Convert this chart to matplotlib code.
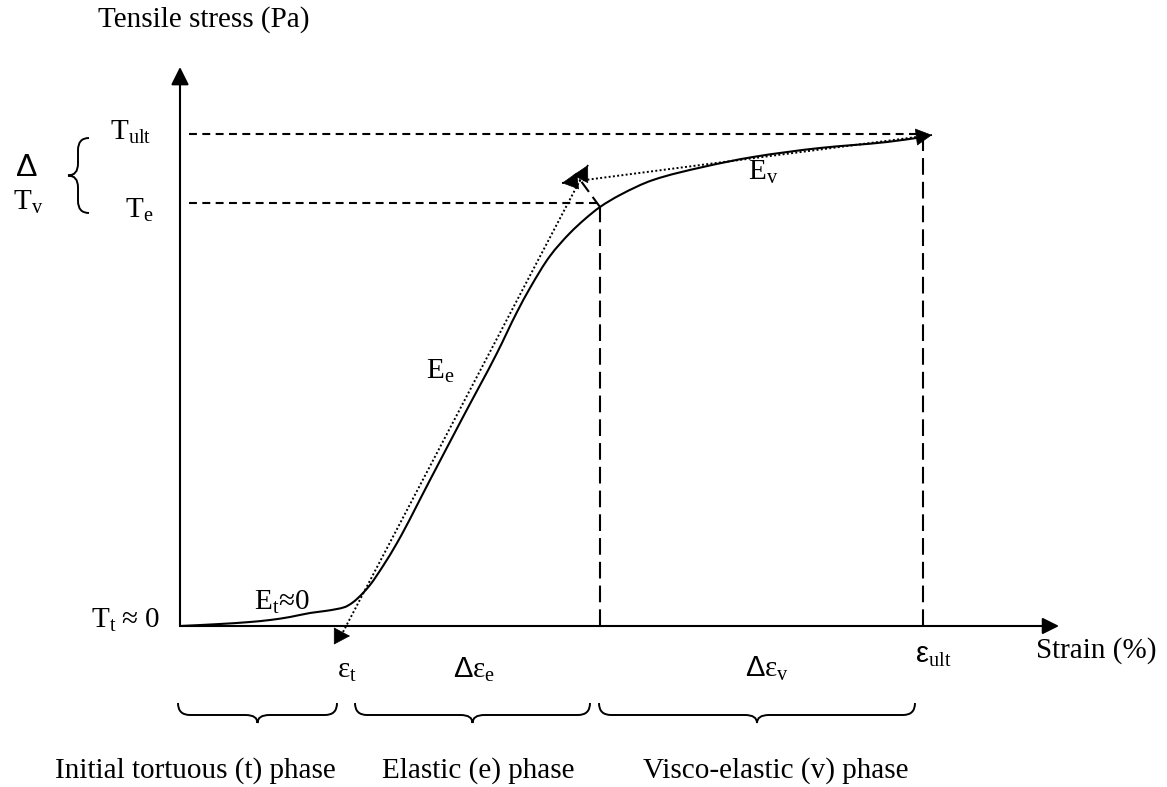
import matplotlib
matplotlib.use("Agg")
import matplotlib.pyplot as plt
from matplotlib.path import Path
from matplotlib.patches import PathPatch
import numpy as np

plt.rcParams['font.family'] = ['Liberation Serif', 'DejaVu Serif']
plt.rcParams['mathtext.fontset'] = 'custom'
plt.rcParams['mathtext.rm'] = 'Liberation Serif'
plt.rcParams['mathtext.it'] = 'Liberation Serif:italic'
plt.rcParams['mathtext.bf'] = 'Liberation Serif:bold'
plt.rcParams['mathtext.sf'] = 'Liberation Sans'

# ---------------- data (schematic units) ----------------
strain = [0, 40, 70, 90, 110, 130, 145, 157, 165, 172, 178, 183, 190, 203, 217,
          250, 283, 317, 337, 350, 370, 390, 405, 420, 440, 473, 523, 573, 640, 707, 743]
stress = [0, 2, 4, 6, 9, 13, 15, 17, 19, 23, 28, 33, 41, 60, 83,
          146, 209, 273, 314, 338, 370, 393, 407, 419, 431, 446, 459, 469, 478, 484, 489]

eps_t = 160       # end of tortuous phase
eps_e = 420       # end of elastic phase
eps_ult = 743     # ultimate strain
T_e = 423         # elastic limit stress
T_ult = 492       # ultimate stress

Ee_line = ([163, 408], [-6, 461])     # elastic modulus tangent (dotted)
Ev_line = ([382, 752], [443, 491])    # visco-elastic modulus secant (dotted)

phase_labels = ["Initial tortuous (t) phase", "Elastic (e) phase", "Visco-elastic (v) phase"]
phase_spans = [(-2, 157), (175, 410), (419, 735)]
phase_label_x = [-125, 202, 463]

x_axis_end = 879
y_axis_end = 559

# ---------------- figure ----------------
fig = plt.figure(figsize=(11.67, 7.87), dpi=100)
ax = fig.add_axes([0, 0, 1, 1])
ax.set_xlim(-180, 987)
ax.set_ylim(-161, 626)
ax.axis('off')

FS = 21
LW = 1.5

# axes with arrows
ax.annotate('', xy=(0, y_axis_end), xytext=(0, 0),
            arrowprops=dict(arrowstyle='-|>,head_length=0.4,head_width=0.2',
                            mutation_scale=27, lw=LW, color='k', shrinkA=0, shrinkB=0))
ax.annotate('', xy=(x_axis_end, 0), xytext=(0, 0),
            arrowprops=dict(arrowstyle='-|>,head_length=0.4,head_width=0.2',
                            mutation_scale=25, lw=LW, color='k', shrinkA=0, shrinkB=0))

# smooth monotone (Fritsch-Carlson) cubic Bezier through the read points
x = np.asarray(strain, float)
y = np.asarray(stress, float)
h = np.diff(x)
s = np.diff(y) / h
m = np.zeros_like(x)
m[0] = s[0]
m[-1] = s[-1]
for i in range(1, len(x) - 1):
    if s[i - 1] * s[i] <= 0:
        m[i] = 0
    else:
        w1 = 2 * h[i] + h[i - 1]
        w2 = h[i] + 2 * h[i - 1]
        m[i] = (w1 + w2) / (w1 / s[i - 1] + w2 / s[i])
verts = [(x[0], y[0])]
codes = [Path.MOVETO]
for i in range(len(x) - 1):
    verts += [(x[i] + h[i] / 3, y[i] + m[i] * h[i] / 3),
              (x[i + 1] - h[i] / 3, y[i + 1] - m[i + 1] * h[i] / 3),
              (x[i + 1], y[i + 1])]
    codes += [Path.CURVE4] * 3
ax.add_patch(PathPatch(Path(verts, codes), fill=False, lw=LW, color='k',
                       capstyle='round', joinstyle='round'))

# dashed reference lines
hd = (0, (3.8, 2.6))
vd = (0, (8.0, 3.4))
ax.plot([9, eps_ult], [T_ult, T_ult], color='k', lw=LW, linestyle=hd)
ax.plot([9, eps_e], [T_e, T_e], color='k', lw=LW, linestyle=hd)
ax.plot([eps_e, eps_e], [0, T_e - 4], color='k', lw=LW, linestyle=vd)
ax.plot([eps_ult, eps_ult], [0, T_ult - 3], color='k', lw=LW, linestyle=vd)
ax.plot([eps_e, 398], [T_e - 4, 449], color='k', lw=LW, linestyle=(0, (6, 3)))

# dotted modulus lines
dot = (0, (1, 1.2))
ax.plot(Ee_line[0], Ee_line[1], color='k', lw=1.4, linestyle=dot)
ax.plot(Ev_line[0], Ev_line[1], color='k', lw=1.4, linestyle=dot)


def head(tip, direction, ms=24):
    d = np.array(direction, float)
    d = d / np.hypot(*d)
    tail = np.array(tip) - d * 6
    ax.annotate('', xy=tip, xytext=tuple(tail),
                arrowprops=dict(arrowstyle='-|>,head_length=0.45,head_width=0.24',
                                mutation_scale=ms, lw=0.5, color='k',
                                shrinkA=0, shrinkB=0))


head((Ev_line[0][1], Ev_line[1][1]), (Ev_line[0][1] - Ev_line[0][0], Ev_line[1][1] - Ev_line[1][0]))
head((Ev_line[0][0], Ev_line[1][0]), (Ev_line[0][0] - Ev_line[0][1], Ev_line[1][0] - Ev_line[1][1]))
head((Ee_line[0][1], Ee_line[1][1]), (Ee_line[0][1] - Ee_line[0][0], Ee_line[1][1] - Ee_line[1][0]))
head((170, -10), (1, 0))


# braces
def hbrace(x0, x1, ytop, hh=12, d=20, q=12, xm=None):
    if xm is None:
        xm = 0.5 * (x0 + x1)
    v = [(x0, ytop), (x0, ytop - hh), (x0 + q, ytop - hh), (xm - q, ytop - hh),
         (xm, ytop - hh), (xm, ytop - d), (xm, ytop - hh), (xm + q, ytop - hh),
         (x1 - q, ytop - hh), (x1, ytop - hh), (x1, ytop)]
    c = [Path.MOVETO, Path.CURVE3, Path.CURVE3, Path.LINETO, Path.CURVE3, Path.CURVE3,
         Path.CURVE3, Path.CURVE3, Path.LINETO, Path.CURVE3, Path.CURVE3]
    ax.add_patch(PathPatch(Path(v, c), fill=False, lw=1.4, color='k'))


def vbrace(y0, y1, xright, hh=11, d=21, q=12):
    ym = 0.5 * (y0 + y1)
    v = [(xright, y0), (xright - hh, y0), (xright - hh, y0 + q), (xright - hh, ym - q),
         (xright - hh, ym), (xright - d, ym), (xright - hh, ym), (xright - hh, ym + q),
         (xright - hh, y1 - q), (xright - hh, y1), (xright, y1)]
    c = [Path.MOVETO, Path.CURVE3, Path.CURVE3, Path.LINETO, Path.CURVE3, Path.CURVE3,
         Path.CURVE3, Path.CURVE3, Path.LINETO, Path.CURVE3, Path.CURVE3]
    ax.add_patch(PathPatch(Path(v, c), fill=False, lw=1.4, color='k'))


for (x0, x1) in phase_spans:
    hbrace(x0, x1, -77)
vbrace(413, 488, -91)

# texts
kw = dict(fontsize=FS, color='k', va='baseline')
ax.text(129, 599, 'Tensile stress (Pa)', ha='right', **kw)
ax.text(856, -32, 'Strain (%)', ha='left', **kw)
ax.text(-70, 486, r'$\mathrm{T}_{\mathrm{ult}}$', ha='left', **kw)
ax.text(-55, 408, r'$\mathrm{T}_{\mathrm{e}}$', ha='left', **kw)
ax.text(-165, 450, r'$\mathsf{\Delta}$', ha='left', fontsize=23, color='k', va='baseline')
ax.text(-167, 416, r'$\mathrm{T}_{\mathrm{v}}$', ha='left', **kw)
ax.text(-20, -2, r'$\mathrm{T}_{\mathrm{t}}$' + '\u2009≈ 0', ha='right', **kw)
ax.text(74, 16, r'$\mathrm{E}_{\mathrm{t}}$' + '≈0', ha='left', **kw)
ax.text(246, 247, r'$\mathrm{E}_{\mathrm{e}}$', ha='left', **kw)
ax.text(568, 446, r'$\mathrm{E}_{\mathrm{v}}$', ha='left', **kw)
ax.text(157, -52, r'$\mathrm{\varepsilon}_{\mathrm{t}}$', ha='left', **kw)
ax.text(273, -52, r'$\mathsf{\Delta}\mathrm{\varepsilon}_{\mathrm{e}}$', ha='left', **kw)
ax.text(565, -51, r'$\mathsf{\Delta}\mathrm{\varepsilon}_{\mathrm{v}}$', ha='left', **kw)
ax.text(735, -37, r'$\mathsf{\varepsilon}_{\mathrm{ult}}$', ha='left', **kw)

for lab, lx in zip(phase_labels, phase_label_x):
    ax.text(lx, -152, lab, ha='left', **kw)

fig.savefig('out.png', dpi=100)
